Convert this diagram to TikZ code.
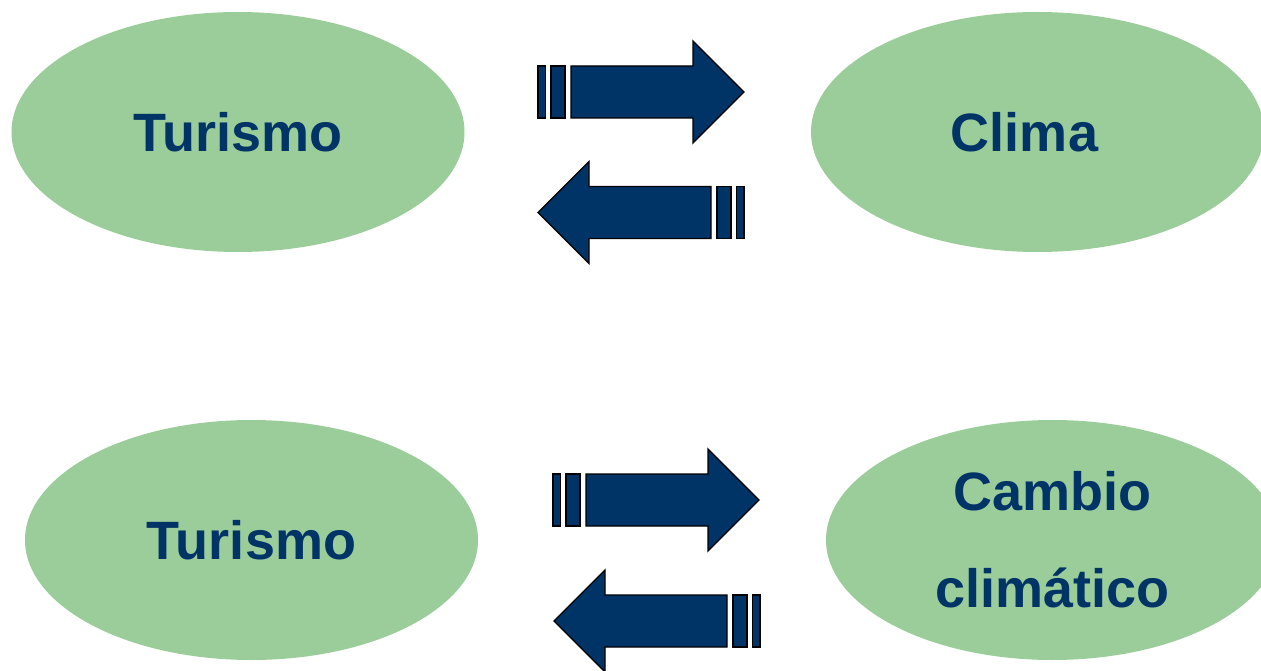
\documentclass[tikz,border=0pt]{standalone}
\usepackage{fontspec}
\setmainfont{Liberation Sans}
\usetikzlibrary{shapes.geometric}
\definecolor{leaf}{HTML}{9BCD9A}
\definecolor{navy}{HTML}{003366}

\tikzset{
    topic/.style={ellipse, fill=leaf, inner sep=0pt, minimum width=453pt, minimum height=240pt,
        text=navy, font=\fontsize{54}{97}\selectfont\bfseries, align=center},
    arrowpart/.style={fill=navy, draw=black, line width=1.3pt},
    pics/barrow/.style={code={
        \path [arrowpart] (0,-26) rectangle (7.5,26);
        \path [arrowpart] (13,-26) rectangle (27,26);
        \path [arrowpart] (33,-26) -- (155,-26) -- (155,-51) -- (206,0) -- (155,51) -- (155,26) -- (33,26) -- cycle;
    }}
}

\begin{document}
\begin{tikzpicture}[x=1pt, y=-1pt]
        \useasboundingbox (0,0) rectangle (1261,671);
        % first pair
        \node (tur1) [topic] at (238,132) {Turismo};
        \node (clima) [topic] at (1037.5,132) {Clima\hspace*{26pt}};
        \pic (ab1) at (538,92) {barrow};
        \pic (ba1) [xscale=-1] at (744,212.5) {barrow};
        % second pair
        \node (tur2) [topic] at (251.5,540) {Turismo};
        \node (cambio) [topic] at (1052.5,540) {Cambio\\climático};
        \pic (ab2) at (553,500) {barrow};
        \pic (ba2) [xscale=-1] at (760,621) {barrow};
\end{tikzpicture}
\end{document}
